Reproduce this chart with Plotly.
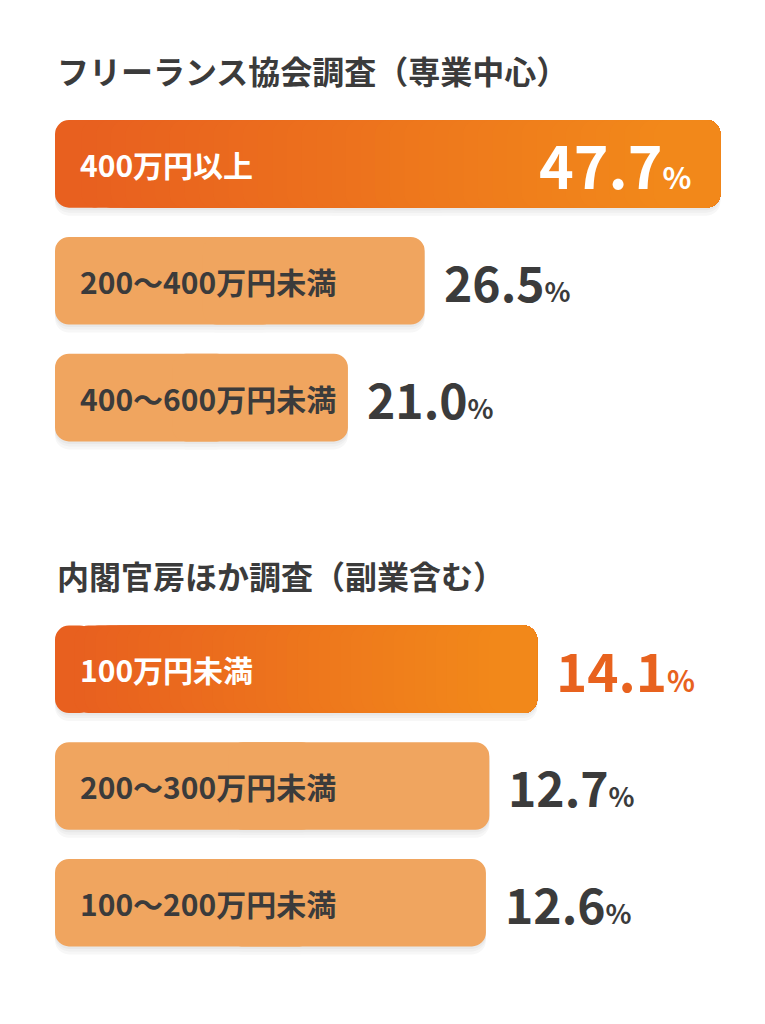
import plotly.graph_objects as go
from plotly.subplots import make_subplots

# data
title_a = "フリーランス協会調査（専業中心）"
labels_a = ["400万円以上", "200～400万円未満", "400～600万円未満"]
values_a = [47.7, 26.5, 21.0]

title_b = "内閣官房ほか調査（副業含む）"
labels_b = ["100万円未満", "200～300万円未満", "100～200万円未満"]
values_b = [14.1, 12.7, 12.6]

FONT = "Noto Sans CJK JP, Noto Sans, sans-serif"
DARK = "#3b3b3b"
LIGHT = "#f0a55f"
ACCENT = "#e8621e"
GRAD_START = (232, 96, 31)
GRAD_END = (242, 136, 26)
STEPS = 40
BAR_W = 0.75
# soft drop shadow: (downward shift in px, colour), drawn far-to-near
SHADOW = [(8, "#f7f7f7"), (5, "#f0f0f0"), (2.5, "#e8e8e8")]

W, H = 765, 1024


def mix(t):
    r, g, b = (round(a + (c - a) * t) for a, c in zip(GRAD_START, GRAD_END))
    return f"rgb({r},{g},{b})"


def piece(lab, base, length, color, row, shift=0.0):
    # one overlaid bar segment; corners get rounded at the end away from base
    fig.add_trace(go.Bar(
        x=[length], y=[lab], base=[base], orientation="h",
        width=BAR_W, offset=-BAR_W / 2 + shift,
        marker=dict(color=color, line=dict(width=0)),
        hoverinfo="skip", showlegend=False,
    ), row=row, col=1)


def plain_bar(lab, v, color, row, shift=0.0):
    # two overlapping halves so both ends are rounded
    piece(lab, v * 0.6, -v * 0.6, color, row, shift)
    piece(lab, v * 0.4, v * 0.6, color, row, shift)


fig = make_subplots(rows=2, cols=1)

groups = [
    (1, title_a, labels_a, values_a, [0, 50.9], [0.5547, 0.897], 0.9316, True),
    (2, title_b, labels_b, values_b, [0, 20.76], [0.0615, 0.4033], 0.4385, False),
]

annotations = []
for row, title, labels, values, xr, ydom, ty, top_inside in groups:
    xref = "x" if row == 1 else "x2"
    yref = "y" if row == 1 else "y2"
    unit_px = (ydom[1] - ydom[0]) * H / len(labels)

    for dy, scol in SHADOW:
        for lab, v in zip(labels, values):
            plain_bar(lab, v, scol, row, dy / unit_px)

    for i, (lab, v) in enumerate(zip(labels, values)):
        if i == 0:
            # gradient bar: rounded left cap, then layers that all end at v
            cap = v * 0.08
            piece(lab, cap, -cap, mix(0), row)
            for k in range(STEPS):
                s = cap / 2 + (v * 0.9 - cap / 2) * k / (STEPS - 1)
                piece(lab, s, v - s, mix(k / (STEPS - 1)), row)
        else:
            plain_bar(lab, v, LIGHT, row)

    annotations.append(dict(
        text=f"<b>{title}</b>", xref="paper", yref="paper",
        x=55 / W, y=ty, xanchor="left", yanchor="middle", showarrow=False,
        font=dict(family=FONT, size=32, color=DARK),
    ))

    for i, (lab, v) in enumerate(zip(labels, values)):
        annotations.append(dict(
            text=f"<b>{lab}</b>", xref=xref, yref=yref, x=0, y=lab,
            xanchor="left", yanchor="middle", xshift=23, showarrow=False,
            font=dict(family=FONT, size=30, color="white" if i == 0 else DARK),
        ))
        if i == 0 and top_inside:
            num_size, pct_size, col = 59, 30, "white"
            anchor, shift = "right", -26
        else:
            num_size = 53 if i == 0 else 48
            pct_size = 29 if i == 0 else 27
            col = ACCENT if i == 0 else DARK
            anchor, shift = "left", 17
        annotations.append(dict(
            text=(f"<b><span style='font-size:{num_size}px'>{v:.1f}</span>"
                  f"<span style='font-size:{pct_size}px'>%</span></b>"),
            xref=xref, yref=yref, x=v, y=lab, xanchor=anchor, yanchor="middle",
            xshift=shift, showarrow=False,
            font=dict(family=FONT, size=num_size, color=col),
        ))

    fig.update_xaxes(range=xr, domain=[55 / W, 1], visible=False, row=row, col=1)
    fig.update_yaxes(type="category", categoryorder="array", categoryarray=labels,
                     range=[len(labels) - 0.5, -0.5], domain=ydom, visible=False,
                     row=row, col=1)

fig.update_layout(
    width=W, height=H,
    margin=dict(l=0, r=0, t=0, b=0),
    paper_bgcolor="white", plot_bgcolor="white",
    barmode="overlay", barcornerradius=14,
    annotations=annotations,
    font=dict(family=FONT),
)

# page body has a default 8px margin; drop it so the figure sits at 0,0
fig.write_html("out.html", config={"displayModeBar": False},
               post_script="document.body.style.margin='0';")
